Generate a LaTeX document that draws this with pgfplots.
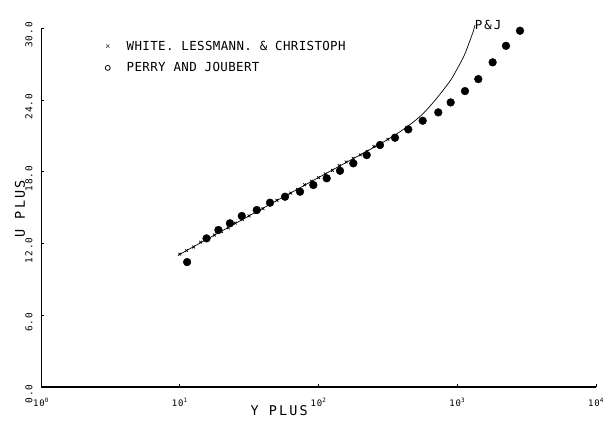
\documentclass[border=0pt]{standalone}
\usepackage{fontspec}
\setmainfont{DejaVu Sans Mono}
\newfontfamily\lblfont[LetterSpace=16]{DejaVu Sans Mono}
\newfontfamily\legfont[LetterSpace=3]{DejaVu Sans Mono}
\newfontfamily\tickfont[LetterSpace=10]{DejaVu Sans Mono}
\usepackage{pgfplots}
\pgfplotsset{compat=1.18}
\begin{document}
\begin{tikzpicture}
\path[use as bounding box] (-41bp,-44bp) rectangle (567bp,387bp);
\begin{axis}[
  at={(0,0)}, anchor=south west,
  scale only axis, width=555bp, height=359bp,
  xmode=log, xmin=1, xmax=10000, ymin=0, ymax=30,
  axis x line*=bottom, axis y line*=left,
  x axis line style={-, line width=1.1pt},
  y axis line style={-, line width=0.7pt},
  clip=false,
  xtick={1,10,100,1000,10000},
  xticklabels={10\textsuperscript{0},10\textsuperscript{1},10\textsuperscript{2},10\textsuperscript{3},10\textsuperscript{4}},
  xminorticks=false,
  ytick={0,6,12,18,24,30},
  yticklabels={0.0,6.0,12.0,18.0,24.0,30.0},
  tick align=inside, major tick length=3bp,
  tick style={black, line width=0.6pt},
  xticklabel style={font=\tickfont\fontsize{9}{10}\selectfont, yshift=-8bp},
  yticklabel style={font=\tickfont\fontsize{9.5}{10}\selectfont, rotate=90, anchor=south, xshift=-7bp, yshift=5bp},
  legend style={draw=none, fill=none, at={(0.11,0.976)}, anchor=north west,
    font=\legfont\fontsize{12.5}{13}\selectfont, row sep=7bp},
  legend cell align=left,
  legend image code/.code={\draw[#1] plot[only marks] coordinates {(0bp,0bp)}; \path[draw=none] (0bp,0bp) -- (17bp,0bp);},
]
\addlegendimage{only marks, mark=x, mark size=2.5bp, black}
\addlegendentry{WHITE. LESSMANN. \& CHRISTOPH}
\addlegendimage{only marks, mark=o, mark size=2.5bp, black, thick}
\addlegendentry{PERRY AND JOUBERT}

% P&J curve
\addplot[black, line width=0.7pt, smooth, forget plot] coordinates {
 (9.7,11.0) (31.6,14.3) (100,17.5) (200,19.4) (282,20.35) (355,21.05)
 (447,21.85) (562,22.8) (708,24.1) (891,25.6) (1000,26.6) (1122,27.7)
 (1230,28.9) (1303,29.7) (1343,30.25)};

% White, Lessmann & Christoph
\addplot[only marks, mark=x, mark size=2bp, black, line width=0.7pt, forget plot] coordinates {
 (10,11.1) (11.2,11.4) (12.6,11.7) (14.1,12.1) (15.8,12.4) (17.8,12.7)
 (20,13.0) (22.4,13.3) (25.1,13.7) (28.2,14.0) (31.6,14.3) (35.5,14.6)
 (39.8,14.9) (44.7,15.3) (50.1,15.6) (56.2,15.9) (63.1,16.2) (70.8,16.5)
 (79.4,16.9) (89.1,17.2) (100,17.5) (112,17.8) (126,18.1) (141,18.5)
 (158,18.8) (178,19.1) (200,19.4) (224,19.7) (251,20.1) (282,20.4) (316,20.7)};

% Perry and Joubert
\addplot[only marks, mark=*, mark size=3.9bp, black, forget plot] coordinates {
 (11.3,10.44) (15.6,12.42) (19.0,13.12) (23.0,13.68) (28.0,14.29)
 (35.9,14.79) (44.7,15.40) (57.4,15.90) (73.6,16.32) (91.8,16.88)
 (114.6,17.44) (142.9,18.07) (178.2,18.69) (222.5,19.38) (277.5,20.22)
 (355.9,20.83) (443.6,21.53) (563.6,22.25) (729.8,22.95) (896.7,23.78)
 (1137,24.73) (1418,25.73) (1799,27.13) (2245,28.51) (2833,29.77)};

\node[font=\lblfont\fontsize{12.5}{13}\selectfont] at (axis cs:1670,30.25) {P\&J};
\node[font=\lblfont\fontsize{13.5}{14}\selectfont] at ([yshift=-24bp]rel axis cs:0.429,0) {Y PLUS};
\node[font=\lblfont\fontsize{13.5}{14}\selectfont, rotate=90] at ([xshift=-21bp]rel axis cs:0,0.496) {U PLUS};
\end{axis}
\end{tikzpicture}
\end{document}
